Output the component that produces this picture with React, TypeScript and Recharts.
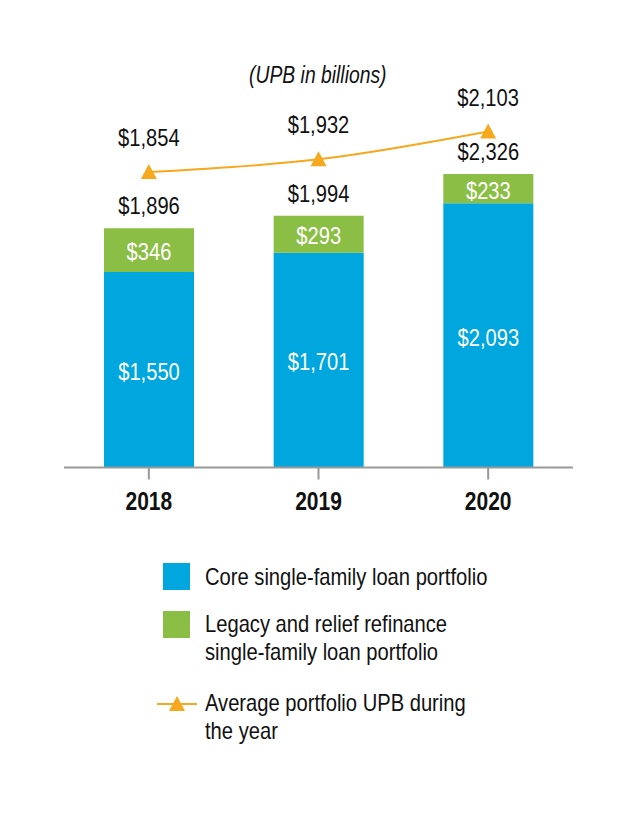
import React from "react";
import { ComposedChart, Bar, Line, XAxis, YAxis, LabelList } from "recharts";

const years = ["2018", "2019", "2020"];
const coreValues = [1550, 1701, 2093];
const legacyValues = [346, 293, 233];
const totalValues = [1896, 1994, 2326];
const averageValues = [1854, 1932, 2103];

const data = years.map((y, i) => ({
  year: y,
  core: coreValues[i],
  legacy: legacyValues[i],
  total: totalValues[i],
  avg: averageValues[i],
}));

const FONT = "'Liberation Sans', Arial, sans-serif";
const SX = 0.84;
const BLUE = "#00A6DE";
const GREEN = "#8BBE45";
const ORANGE = "#F6A81E";

const fmt = (v: number) => "$" + v.toLocaleString("en-US");

const CText = ({ x, y, fill = "#111", size = 24, weight = "normal", children }: any) => (
  <text transform={`translate(${x},${y}) scale(${SX},1)`} x={0} y={0} textAnchor="middle"
    dominantBaseline="central" fill={fill} fontSize={size} fontWeight={weight} fontFamily={FONT}>
    {children}
  </text>
);

const InsideLabel = (props: any) => {
  const { x, y, width, height, value } = props;
  return <CText x={x + width / 2} y={y + height / 2 + 2} fill="#ffffff">{fmt(value)}</CText>;
};

const TotalLabel = (props: any) => {
  const { x, y, width, value } = props;
  return <CText x={x + width / 2} y={y - 22}>{fmt(value)}</CText>;
};

const LineLabel = (props: any) => {
  const { x, y, value } = props;
  return <CText x={x} y={y - 34}>{fmt(value)}</CText>;
};

const Triangle = (props: any) => {
  const { cx, cy } = props;
  if (cx == null || cy == null) return null;
  return <polygon points={`${cx},${cy - 8} ${cx + 8},${cy + 7} ${cx - 8},${cy + 7}`} fill={ORANGE} />;
};

const Tick = (props: any) => {
  const { x, y, payload } = props;
  return <CText x={x} y={y + 20} size={25} weight="bold">{payload.value}</CText>;
};

const legendText: React.CSSProperties = {
  position: "absolute",
  left: 205,
  fontSize: 24,
  lineHeight: "28px",
  color: "#111",
  whiteSpace: "nowrap",
  transform: `scaleX(${SX})`,
  transformOrigin: "left top",
};

export default function App() {
  return (
    <div style={{ position: "absolute", left: 0, top: 0, width: 636, height: 830, background: "#fff", fontFamily: FONT }}>
      <div style={{ position: "absolute", left: 0, width: 636, top: 61, textAlign: "center", lineHeight: "28px" }}>
        <span style={{ display: "inline-block", fontSize: 23, fontStyle: "italic", color: "#111", transform: `scaleX(${SX})` }}>
          (UPB in billions)
        </span>
      </div>
      <div style={{ position: "absolute", left: 0, top: 0 }}>
        <ComposedChart width={636} height={530} data={data}
          margin={{ top: 100, right: 63, bottom: 0, left: 64 }}>
          <XAxis dataKey="year" axisLine={{ stroke: "#999", strokeWidth: 2 }} tickLine={{ stroke: "#999", strokeWidth: 2 }}
            tickSize={12} tick={<Tick />} height={62.5} interval={0} />
          <YAxis yAxisId="left" hide domain={[0, 2912]} />
          <YAxis yAxisId="right" hide orientation="right" domain={[41, 2296]} />
          <Bar yAxisId="left" dataKey="core" stackId="a" fill={BLUE} barSize={90} isAnimationActive={false}>
            <LabelList dataKey="core" content={<InsideLabel />} />
          </Bar>
          <Bar yAxisId="left" dataKey="legacy" stackId="a" fill={GREEN} barSize={90} isAnimationActive={false}>
            <LabelList dataKey="legacy" content={<InsideLabel />} />
            <LabelList dataKey="total" content={<TotalLabel />} />
          </Bar>
          <Line yAxisId="right" dataKey="avg" stroke={ORANGE} strokeWidth={2} type="monotone"
            dot={<Triangle />} activeDot={false} isAnimationActive={false}>
            <LabelList dataKey="avg" content={<LineLabel />} />
          </Line>
        </ComposedChart>
      </div>
      <div style={{ position: "absolute", left: 163, top: 563, width: 27, height: 27, background: BLUE }} />
      <div style={{ ...legendText, top: 563 }}>Core single-family loan portfolio</div>
      <div style={{ position: "absolute", left: 163, top: 611, width: 27, height: 27, background: GREEN }} />
      <div style={{ ...legendText, top: 610 }}>
        Legacy and relief refinance<br />single-family loan portfolio
      </div>
      <svg style={{ position: "absolute", left: 150, top: 690 }} width={55} height={30}>
        <line x1={7} y1={14} x2={47} y2={14} stroke={ORANGE} strokeWidth={2} />
        <polygon points="27,6 35,21 19,21" fill={ORANGE} />
      </svg>
      <div style={{ ...legendText, top: 689 }}>
        Average portfolio UPB during<br />the year
      </div>
    </div>
  );
}
